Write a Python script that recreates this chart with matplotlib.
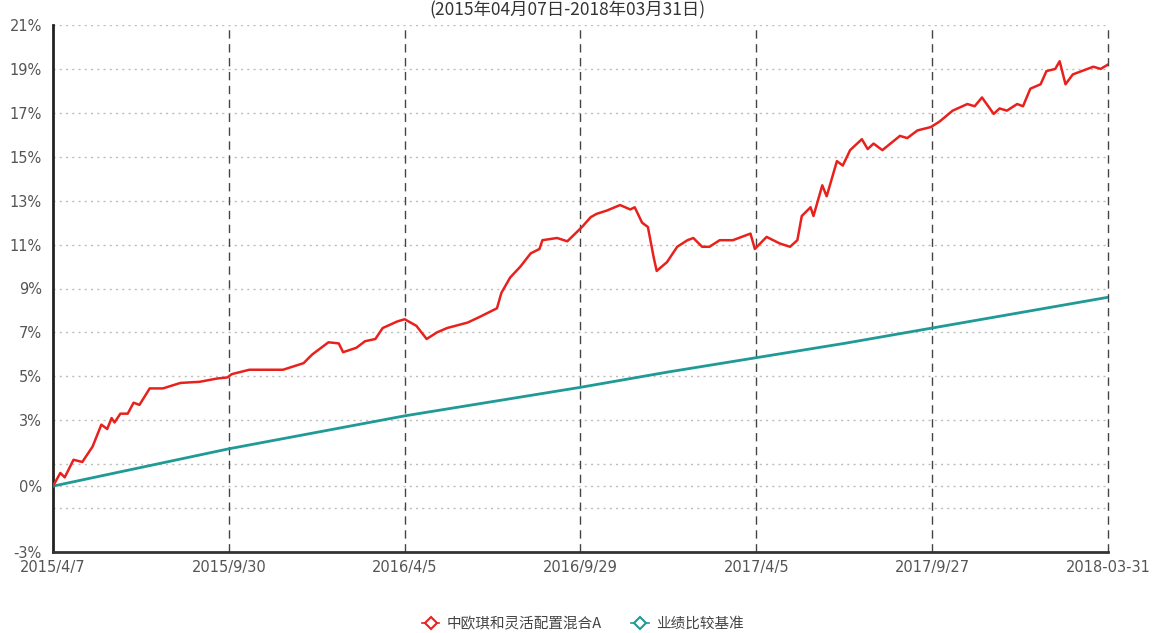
import matplotlib.pyplot as plt
from matplotlib.lines import Line2D

plt.rcParams['font.family'] = ['DejaVu Sans', 'Noto Sans CJK SC']

# trading-day index (x) and cumulative return in % (y)
fund_x = [0, 5, 8, 14, 20, 27, 33, 37, 40, 42, 46, 51, 55, 59, 66, 75, 87, 100, 112, 119,
          122, 134, 157, 171, 177, 188, 195, 198, 207, 213, 220, 225, 235, 240, 244, 248,
          255, 262, 269, 283, 291, 303, 306, 312, 319, 326, 332, 334, 344, 351, 361, 367,
          371, 378, 387, 394, 397, 402, 406, 410, 412, 419, 426, 433, 437, 443, 448, 455,
          464, 476, 479, 487, 496, 503, 508, 511, 517, 519, 525, 528, 535, 539, 544, 552,
          556, 560, 566, 578, 583, 590, 599, 605, 614, 624, 629, 634, 642, 646, 651, 658,
          662, 667, 674, 678, 684, 687, 691, 696, 706, 710, 715, 720]
fund_y = [0.0, 0.6, 0.4, 1.2, 1.1, 1.8, 2.8, 2.6, 3.1, 2.9, 3.3, 3.3, 3.8, 3.7, 4.45, 4.45,
          4.7, 4.75, 4.9, 4.95, 5.1, 5.3, 5.3, 5.6, 6.0, 6.55, 6.5, 6.1, 6.3, 6.6, 6.7, 7.2,
          7.5, 7.6, 7.45, 7.3, 6.7, 7.0, 7.2, 7.45, 7.7, 8.1, 8.8, 9.5, 10.0, 10.6, 10.8,
          11.2, 11.3, 11.15, 11.8, 12.25, 12.4, 12.55, 12.8, 12.6, 12.7, 12.0, 11.8, 10.4,
          9.8, 10.2, 10.9, 11.2, 11.3, 10.9, 10.9, 11.2, 11.2, 11.5, 10.8, 11.35, 11.05,
          10.9, 11.2, 12.3, 12.7, 12.3, 13.7, 13.2, 14.8, 14.6, 15.3, 15.8, 15.35, 15.6,
          15.3, 15.95, 15.85, 16.2, 16.35, 16.6, 17.1, 17.4, 17.3, 17.7, 16.95, 17.2, 17.1,
          17.4, 17.3, 18.1, 18.3, 18.9, 19.0, 19.35, 18.3, 18.75, 19.0, 19.1, 19.0, 19.2]

bench_x = [0, 60, 120, 180, 240, 300, 360, 420, 480, 540, 600, 660, 720]
bench_y = [0.0, 0.85, 1.7, 2.45, 3.2, 3.85, 4.5, 5.2, 5.85, 6.5, 7.2, 7.9, 8.6]

date_ticks = [0, 120, 240, 360, 480, 600, 720]
date_labels = ['2015/4/7', '2015/9/30', '2016/4/5', '2016/9/29', '2017/4/5', '2017/9/27', '2018-03-31']

y_ticks = [21, 19, 17, 15, 13, 11, 9, 7, 5, 3, 0, -3]
y_grid = [21, 19, 17, 15, 13, 11, 9, 7, 5, 3, 1, 0, -1]

fund_name = '中欧琪和灵活配置混合A'
bench_name = '业绩比较基准'
title = '(2015年04月07日-2018年03月31日)'

red = '#e8211d'
teal = '#1f9a96'

fig = plt.figure(figsize=(11.54, 6.33), dpi=100)
ax = fig.add_axes([53 / 1154, 1 - 552 / 633, (1108 - 53) / 1154, (552 - 25) / 633])

for g in y_grid:
    ax.axhline(g, color='#bdbdbd', lw=1, ls=(0, (1.5, 3)), zorder=1)
for t in date_ticks[1:]:
    ax.axvline(t, color='#444444', lw=1, ls=(0, (6, 4)), zorder=1, clip_on=False)

ax.plot(bench_x, bench_y, color=teal, lw=2, zorder=3)
ax.plot(fund_x, fund_y, color=red, lw=1.8, zorder=4)

ax.set_xlim(0, 720)
ax.set_ylim(-3, 21)
ax.set_xticks(date_ticks)
ax.set_xticklabels(date_labels)
ax.set_yticks(y_ticks)
ax.set_yticklabels([f'{v}%' for v in y_ticks])
ax.tick_params(length=0, labelsize=10.5, labelcolor='#555555', pad=8)
ax.tick_params(axis='x', pad=6)

ax.spines['top'].set_visible(False)
ax.spines['right'].set_visible(False)
ax.spines['left'].set_color('#222222')
ax.spines['left'].set_linewidth(2)
ax.spines['left'].set_linestyle((0, (5, 1)))
ax.spines['bottom'].set_color('#333333')
ax.spines['bottom'].set_linewidth(2)

fig.text(0.492, 1 - 1 / 633, title, ha='center', va='top', fontsize=12.5,
         color='#333333', family=['Noto Sans CJK SC', 'DejaVu Sans'])

handles = [
    Line2D([], [], color=red, lw=1.2, marker='D', markersize=6, markerfacecolor='white',
           markeredgecolor=red, markeredgewidth=1.5),
    Line2D([], [], color=teal, lw=1.2, marker='D', markersize=6, markerfacecolor='white',
           markeredgecolor=teal, markeredgewidth=1.5),
]
fig.legend(handles, [fund_name, bench_name], loc='center', bbox_to_anchor=(0.505, 1 - 624 / 633),
           ncol=2, frameon=False, handlelength=1.2, columnspacing=2.0, handletextpad=0.5,
           prop={'family': ['Noto Sans CJK SC', 'DejaVu Sans'], 'size': 10.5}, labelcolor='#444444')

fig.savefig('out.png', dpi=100)
